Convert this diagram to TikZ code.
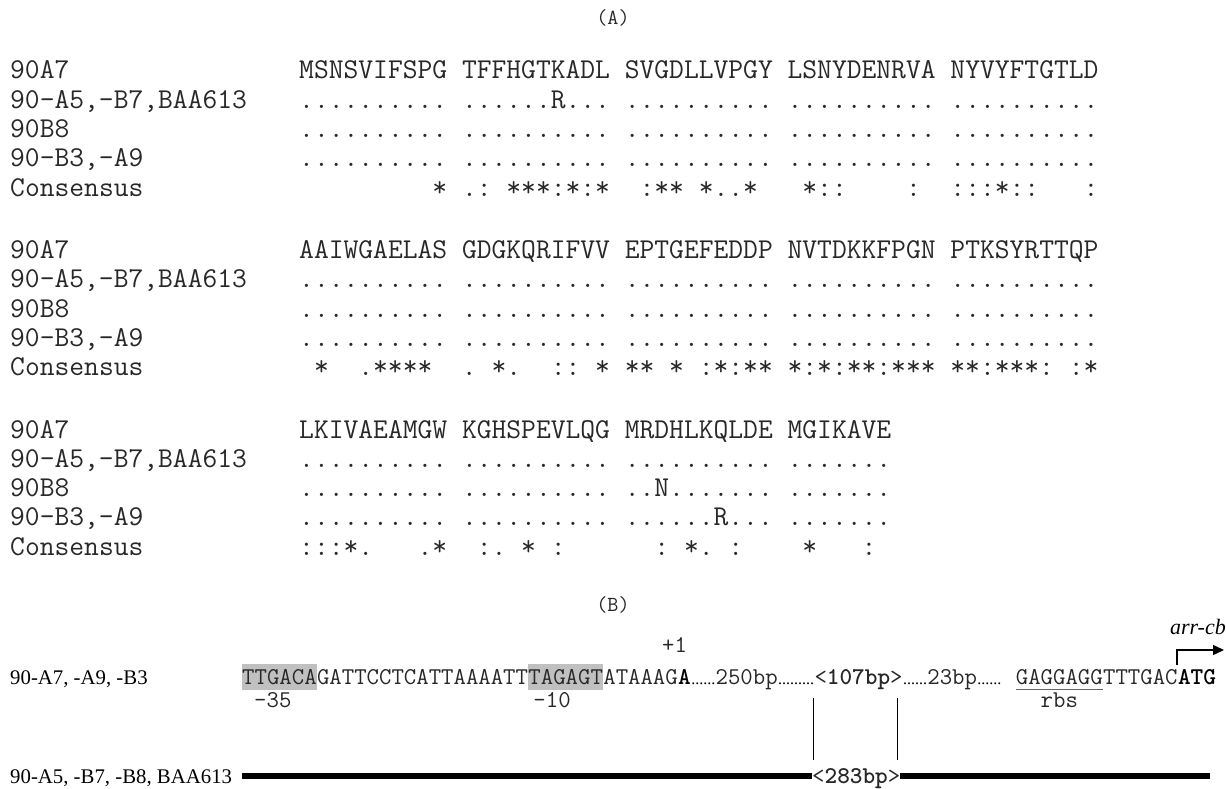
\documentclass[tikz,border=0pt]{standalone}
\usepackage{fontspec}
\setmainfont{Liberation Serif}
\usetikzlibrary{arrows.meta,backgrounds,calc}
\newcommand\alnfont{\ttfamily\fontsize{28.74}{28.74}\selectfont}
\newcommand\bseqfont{\ttfamily\fontsize{24.1}{24.1}\selectfont}
\newcommand\bdotfont{\rmfamily\fontsize{16}{16}\selectfont}
\newcommand\blabfont{\rmfamily\fontsize{20.8}{20.8}\selectfont}
\newcommand\hdfont{\ttfamily\fontsize{21.5}{21.5}\selectfont}
\definecolor{boxgray}{RGB}{192,192,192}
\definecolor{ink}{RGB}{40,40,40}
\begin{document}
\begin{tikzpicture}[x=1pt,y=-1pt,
  aln/.style={anchor=base west, inner sep=0, font=\alnfont, text=ink},
  lab/.style={anchor=base west, inner sep=0, font=\blabfont},
  bs/.style={anchor=base west, inner sep=0, font=\bseqfont, text=ink},
  bsb/.style={anchor=base west, inner sep=0, font=\bseqfont\bfseries},
  bd/.style={anchor=base west, inner sep=0, font=\bdotfont},
  hd/.style={inner sep=0, font=\hdfont, text=ink},
  vline/.style={line width=0.9pt},
  bar/.style={line width=6pt},
  ul/.style={line width=1pt, black!60},
  tss/.style={line width=1.4pt, -{Triangle[length=11pt,width=10pt]}}]
\useasboundingbox (0,0) rectangle (1226,789);

\node[hd] (hA) at (613,18) {(A)};

% ---- block 1
\node[aln] (l1a) at (10,79)    {90A7};
\node[aln] (l1b) at (10,108.3) {90-A5,-B7,BAA613};
\node[aln] (l1c) at (10,137.6) {90B8};
\node[aln] (l1d) at (10,166.9) {90-B3,-A9};
\node[aln] (l1e) at (10,196.2) {Consensus};
\node[aln] (s1a) at (299,79)    {MSNSVIFSPG~TFFHGTKADL~SVGDLLVPGY~LSNYDENRVA~NYVYFTGTLD};
\node[aln] (s1b) at (299,108.3) {..........~......R...~..........~..........~..........};
\node[aln] (s1c) at (299,137.6) {..........~..........~..........~..........~..........};
\node[aln] (s1d) at (299,166.9) {..........~..........~..........~..........~..........};
\node[aln] (s1e) at (299,196.2) {~~~~~~~~~*~.:~***:*:*~~:**~*..*~~~*::~~~~:~~:::*::~~~:};

% ---- block 2
\node[aln] (l2a) at (10,258.5) {90A7};
\node[aln] (l2b) at (10,287.8) {90-A5,-B7,BAA613};
\node[aln] (l2c) at (10,317.1) {90B8};
\node[aln] (l2d) at (10,346.4) {90-B3,-A9};
\node[aln] (l2e) at (10,375.7) {Consensus};
\node[aln] (s2a) at (299,258.5) {AAIWGAELAS~GDGKQRIFVV~EPTGEFEDDP~NVTDKKFPGN~PTKSYRTTQP};
\node[aln] (s2b) at (299,287.8) {..........~..........~..........~..........~..........};
\node[aln] (s2c) at (299,317.1) {..........~..........~..........~..........~..........};
\node[aln] (s2d) at (299,346.4) {..........~..........~..........~..........~..........};
\node[aln] (s2e) at (299,375.7) {~*~~.****~~.~*.~~::~*~**~*~:*:**~*:*:**:***~**:***:~:*};

% ---- block 3
\node[aln] (l3a) at (10,438)   {90A7};
\node[aln] (l3b) at (10,467.3) {90-A5,-B7,BAA613};
\node[aln] (l3c) at (10,496.6) {90B8};
\node[aln] (l3d) at (10,525.9) {90-B3,-A9};
\node[aln] (l3e) at (10,555.2) {Consensus};
\node[aln] (s3a) at (299,438)   {LKIVAEAMGW~KGHSPEVLQG~MRDHLKQLDE~MGIKAVE};
\node[aln] (s3b) at (299,467.3) {..........~..........~..........~.......};
\node[aln] (s3c) at (299,496.6) {..........~..........~..N.......~.......};
\node[aln] (s3d) at (299,525.9) {..........~..........~......R...~.......};
\node[aln] (s3e) at (299,555.2) {:::*.~~~.*~~:.~*~:~~~~~~:~*.~:~~~~*~~~:};

% ---- (B)
\node[hd] (hB) at (613,605) {(B)};

\node[lab] (labB1) at (10,684) {90-A7, -A9, -B3};
\node[bs]  (s35) at (242,684) {TTGACA};
\node[bs]  (sg1) at (s35.base east) {GATTCCTCATTAAAATT};
\node[bs]  (s10) at (sg1.base east) {TAGAGT};
\node[bs]  (sg2) at (s10.base east) {ATAAAG};
\node[bsb] (p1)  at (sg2.base east) {A};
\node[bd]  (d1)  at (p1.base east) {......};
\node[bs]  (n250) at (d1.base east) {250bp};
\node[bd]  (d2)  at (n250.base east) {.........};
\node[bs]  (n107) at (d2.base east) {<\textbf{107bp}>};
\node[bd]  (d3)  at (n107.base east) {......};
\node[bs]  (n23) at (d3.base east) {23bp};
\node[bd]  (d4)  at (n23.base east) {......};
\node[bs]  (rbs) at ($(d4.base east)+(14,0)$) {GAGGAGG};
\node[bs]  (sg3) at (rbs.base east) {TTTGAC};
\node[bsb] (atg) at (sg3.base east) {ATG};

\begin{scope}[on background layer]
  \fill[boxgray] ($(s35.base west)+(0,-20)$) rectangle ($(s35.base east)+(0,6)$);
  \fill[boxgray] ($(s10.base west)+(0,-20)$) rectangle ($(s10.base east)+(0,6)$);
\end{scope}

\node[bs] (m35) at ($(s35.base west)+(12,23)$) {-35};
\node[bs] (m10) at ($(s10.base west)+(5,23)$) {-10};
\node[bs, anchor=base] (plus1) at ($(p1.base)+(-10,-32)$) {+1};
\node[bs, anchor=base] (rbsl) at ($(rbs.base)+(0,23)$) {rbs};
\draw[ul] ($(rbs.base west)+(0,5)$) -- ($(rbs.base east)+(0,5)$);

\coordinate (tip) at (1224,650);
\draw[tss] ($(atg.base west)+(-1,-19)$) |- (tip);
\node[anchor=base east, inner sep=0, font=\rmfamily\fontsize{22}{22}\selectfont\itshape] (gene) at (1226,634) {arr-cb};

% bottom row
\node[lab] (labB2) at (10,783) {90-A5, -B7, -B8, BAA613};
\node[bs] (n283) at (812,783) {<\textbf{283bp}>};
\coordinate (barL) at (242,776);
\coordinate (barR) at (1210,776);
\draw[bar] (barL) -- (barL -| n283.west);
\draw[bar] (barL -| n283.east) -- (barR);

\draw[vline] ($(n107.base west)+(-1,14)$) -- ($(n107.base west)+(-1,76)$);
\draw[vline] ($(n107.base east)+(-5,14)$) -- ($(n107.base east)+(-5,76)$);
\end{tikzpicture}
\end{document}
